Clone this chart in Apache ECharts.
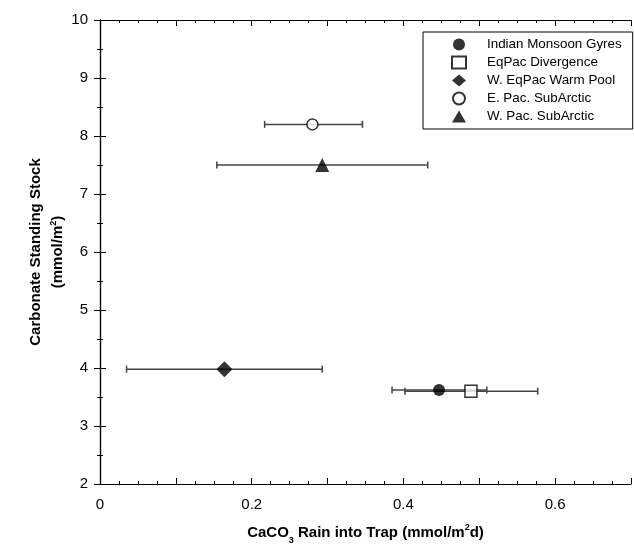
<!DOCTYPE html>
<html>
<head>
<meta charset="utf-8">
<script src="https://cdn.jsdelivr.net/npm/echarts@6/dist/echarts.min.js"></script>
<style>
  html, body { margin: 0; padding: 0; background: #fff; }
  #chart { width: 634px; height: 550px; }
</style>
</head>
<body>
<div id="chart"></div>
<script>
// regions (legend order)
const regions = ['Indian Monsoon Gyres', 'EqPac Divergence', 'W. EqPac Warm Pool', 'E. Pac. SubArctic', 'W. Pac. SubArctic'];
// CaCO3 rain (x) and standing stock (y)
const rainValues = [0.447, 0.489, 0.164, 0.280, 0.293];
const stockValues = [3.62, 3.60, 3.98, 8.20, 7.50];
// horizontal error bar ends
const rainLow = [0.385, 0.402, 0.035, 0.217, 0.154];
const rainHigh = [0.510, 0.577, 0.293, 0.346, 0.432];

const symbols = ['circle', 'rect', 'diamond', 'circle', 'triangle'];
const symbolSizes = [12, 12, 16, 11, 14];
const filled = [true, false, true, false, true];

const font = 'Liberation Sans, Arial, Helvetica, sans-serif';
const chart = echarts.init(document.getElementById('chart'));

// all four sides of the frame get inward ticks
function frameAxis(extra, minorSplit) {
    return Object.assign({
        type: 'value',
        axisLine: { show: true, lineStyle: { color: '#000', width: 1.2 } },
        axisTick: { show: true, inside: true, length: 6, lineStyle: { color: '#000', width: 1 } },
        minorTick: { show: true, splitNumber: minorSplit, length: 3, lineStyle: { color: '#000', width: 1 } },
        splitLine: { show: false },
        minorSplitLine: { show: false }
    }, extra);
}

const errorBars = {
    type: 'custom',
    name: 'err',
    z: 1,
    data: rainValues.map((x, i) => [x, stockValues[i], rainLow[i], rainHigh[i]]),
    renderItem: function (params, api) {
        const y = api.value(1);
        const a = api.coord([api.value(2), y]);
        const b = api.coord([api.value(3), y]);
        const style = { stroke: '#444', lineWidth: 1.5 };
        return {
            type: 'group',
            children: [
                { type: 'line', shape: { x1: a[0], y1: a[1], x2: b[0], y2: b[1] }, style: style },
                { type: 'line', shape: { x1: a[0], y1: a[1] - 3.5, x2: a[0], y2: a[1] + 3.5 }, style: style },
                { type: 'line', shape: { x1: b[0], y1: b[1] - 3.5, x2: b[0], y2: b[1] + 3.5 }, style: style }
            ]
        };
    }
};

const scatterSeries = regions.map((name, i) => ({
    type: 'scatter',
    name: name,
    z: 3,
    symbol: symbols[i],
    symbolSize: symbolSizes[i],
    itemStyle: filled[i]
        ? { color: '#000' }
        : { color: '#fff', borderColor: '#000', borderWidth: 1.5 },
    data: [[rainValues[i], stockValues[i]]]
}));

const option = {
    animation: false,
    textStyle: { fontFamily: font },
    grid: { left: 100, right: 1, top: 20, bottom: 61 },
    legend: {
        data: regions,
        orient: 'vertical',
        left: 423,
        top: 32,
        padding: [6, 11, 6, 28],
        itemGap: 4.5,
        itemWidth: 14,
        itemHeight: 12,
        borderColor: '#000',
        borderWidth: 1,
        backgroundColor: '#fff',
        textStyle: { fontFamily: font, fontSize: 13.4, color: '#000', padding: [0, 0, 0, 16] }
    },
    xAxis: [
        frameAxis({
            min: 0,
            max: 0.7,
            interval: 0.1,
            position: 'bottom',
            axisLabel: {
                margin: 13,
                fontSize: 15,
                color: '#000',
                formatter: v => (Math.round(v * 10) % 2 === 0 ? (v === 0 ? '0' : v.toFixed(1)) : '')
            },
            name: 'CaCO{sub|3} Rain into Trap (mmol/m{sup|2}d)',
            nameLocation: 'middle',
            nameGap: 36,
            nameMoveOverlap: false,
            nameTextStyle: {
                fontSize: 15, fontWeight: 'bold', color: '#000',
                rich: {
                    sub: { fontSize: 9, fontWeight: 'bold', padding: [16, 0, 0, 0] },
                    sup: { fontSize: 9, fontWeight: 'bold', padding: [0, 0, 9, 0] }
                }
            }
        }, 4),
        frameAxis({
            min: 0,
            max: 0.7,
            interval: 0.1,
            position: 'top',
            axisLabel: { show: false }
        }, 4)
    ],
    yAxis: [
        frameAxis({
            min: 2,
            max: 10,
            interval: 1,
            position: 'left',
            axisLabel: { margin: 12, fontSize: 15, color: '#000' },
            name: 'Carbonate Standing Stock\n(mmol/m{sup|2})',
            nameLocation: 'middle',
            nameRotate: 90,
            nameGap: 31,
            nameMoveOverlap: false,
            nameTextStyle: {
                fontSize: 15, fontWeight: 'bold', color: '#000', lineHeight: 22,
                rich: {
                    sup: { fontSize: 9, fontWeight: 'bold', padding: [0, 0, 9, 0] }
                }
            }
        }, 2),
        frameAxis({
            min: 2,
            max: 10,
            interval: 1,
            position: 'right',
            axisLabel: { show: false }
        }, 2)
    ],
    series: [errorBars].concat(scatterSeries)
};

chart.setOption(option);
</script>
</body>
</html>
